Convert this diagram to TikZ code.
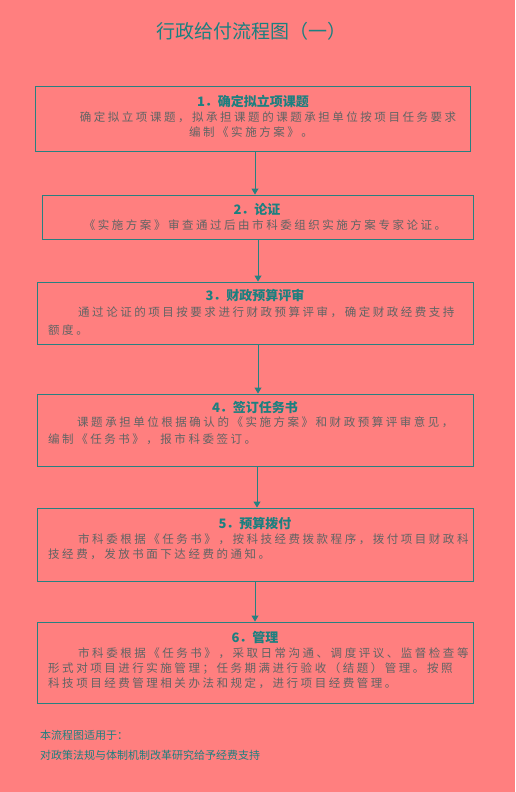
\documentclass[tikz,border=0pt]{standalone}
\usepackage{fontspec}
\setmainfont{Noto Sans CJK SC}
\newfontfamily\cjk{Noto Sans CJK SC}
\newfontfamily\cjkbody[LetterSpace=22]{Noto Sans CJK SC}
\usetikzlibrary{arrows.meta}
\definecolor{bgc}{RGB}{255,127,127}
\definecolor{tealc}{RGB}{28,128,128}
\definecolor{linec}{RGB}{40,128,128}
\definecolor{bodyc}{RGB}{96,100,100}
\tikzset{
  box/.style={draw=linec, line width=0.9pt, fill=none, inner sep=0pt},
  arr/.style={draw=linec, line width=0.9pt, -{Triangle[length=6pt,width=7pt]}},
  stitle/.style={text=tealc, font=\cjk\bfseries\fontsize{13}{13}\selectfont, inner sep=0pt, anchor=base},
  bodyl/.style={text=bodyc, font=\cjkbody\fontsize{11.5}{11.5}\selectfont, inner sep=0pt, anchor=base west},
  bodyc/.style={text=bodyc, font=\cjkbody\fontsize{11.5}{11.5}\selectfont, inner sep=0pt, anchor=base},
  foot/.style={text=tealc, font=\cjk\fontsize{11}{11}\selectfont, inner sep=0pt, anchor=base west},
}
\begin{document}
\begin{tikzpicture}[x=1pt,y=-1pt]
\fill[bgc] (0,0) rectangle (515,792);
\useasboundingbox (0,0) rectangle (515,792);

\node[text=tealc, font=\cjk\fontsize{19}{19}\selectfont, inner sep=0pt, anchor=base] (title) at (251,38) {行政给付流程图（一）};

% boxes
\node[box, minimum width=435pt, minimum height=65pt] (b1) at (252.5,118.5) {};
\node[box, minimum width=431pt, minimum height=44pt] (b2) at (257.5,217) {};
\node[box, minimum width=436pt, minimum height=62pt] (b3) at (255,313) {};
\node[box, minimum width=436pt, minimum height=72pt] (b4) at (255,430) {};
\node[box, minimum width=436pt, minimum height=73pt] (b5) at (255,544.5) {};
\node[box, minimum width=436pt, minimum height=81pt] (b6) at (255,662.5) {};

% arrows
\draw[arr] ([xshift=2.5pt]b1.south) -- ([xshift=2.5pt]b1.south |- b2.north);
\draw[arr] ([xshift=0.5pt]b2.south) -- ([xshift=0.5pt]b2.south |- b3.north);
\draw[arr] ([xshift=3pt]b3.south) -- ([xshift=3pt]b3.south |- b4.north);
\draw[arr] ([xshift=2pt]b4.south) -- ([xshift=2pt]b4.south |- b5.north);
\draw[arr] (b5.south) -- (b5.south |- b6.north);

% box 1
\node[stitle] (t1) at (253,106) {1．确定拟立项课题};
\node[bodyc] (l11) at (268,121) {确定拟立项课题，拟承担课题的课题承担单位按项目任务要求};
\node[bodyc] (l12) at (251,136) {编制《实施方案》。};

% box 2
\node[stitle] (t2) at (257,214) {2．论证};
\node[bodyc] (l21) at (265,229) {《实施方案》审查通过后由市科委组织实施方案专家论证。};

% box 3
\node[stitle] (t3) at (255,300) {3．财政预算评审};
\node[bodyl] (l31) at (78,316) {通过论证的项目按要求进行财政预算评审，确定财政经费支持};
\node[bodyl] (l32) at (48,334) {额度。};

% box 4
\node[stitle] (t4) at (255,412) {4．签订任务书};
\node[bodyl] (l41) at (77,426) {课题承担单位根据确认的《实施方案》和财政预算评审意见，};
\node[bodyl] (l42) at (48,443) {编制《任务书》，报市科委签订。};

% box 5
\node[stitle] (t5) at (255,528) {5．预算拨付};
\node[bodyl] (l51) at (78,543) {市科委根据《任务书》，按科技经费拨款程序，拨付项目财政科};
\node[bodyl] (l52) at (48,558) {技经费，发放书面下达经费的通知。};

% box 6
\node[stitle] (t6) at (255,642) {6．管理};
\node[bodyl] (l61) at (78,657) {市科委根据《任务书》，采取日常沟通、调度评议、监督检查等};
\node[bodyl] (l62) at (48,672) {形式对项目进行实施管理；任务期满进行验收（结题）管理。按照};
\node[bodyl] (l63) at (48,687) {科技项目经费管理相关办法和规定，进行项目经费管理。};

% footer
\node[foot] (f1) at (40,739) {本流程图适用于：};
\node[foot] (f2) at (40,759) {对政策法规与体制机制改革研究给予经费支持};
\end{tikzpicture}
\end{document}
